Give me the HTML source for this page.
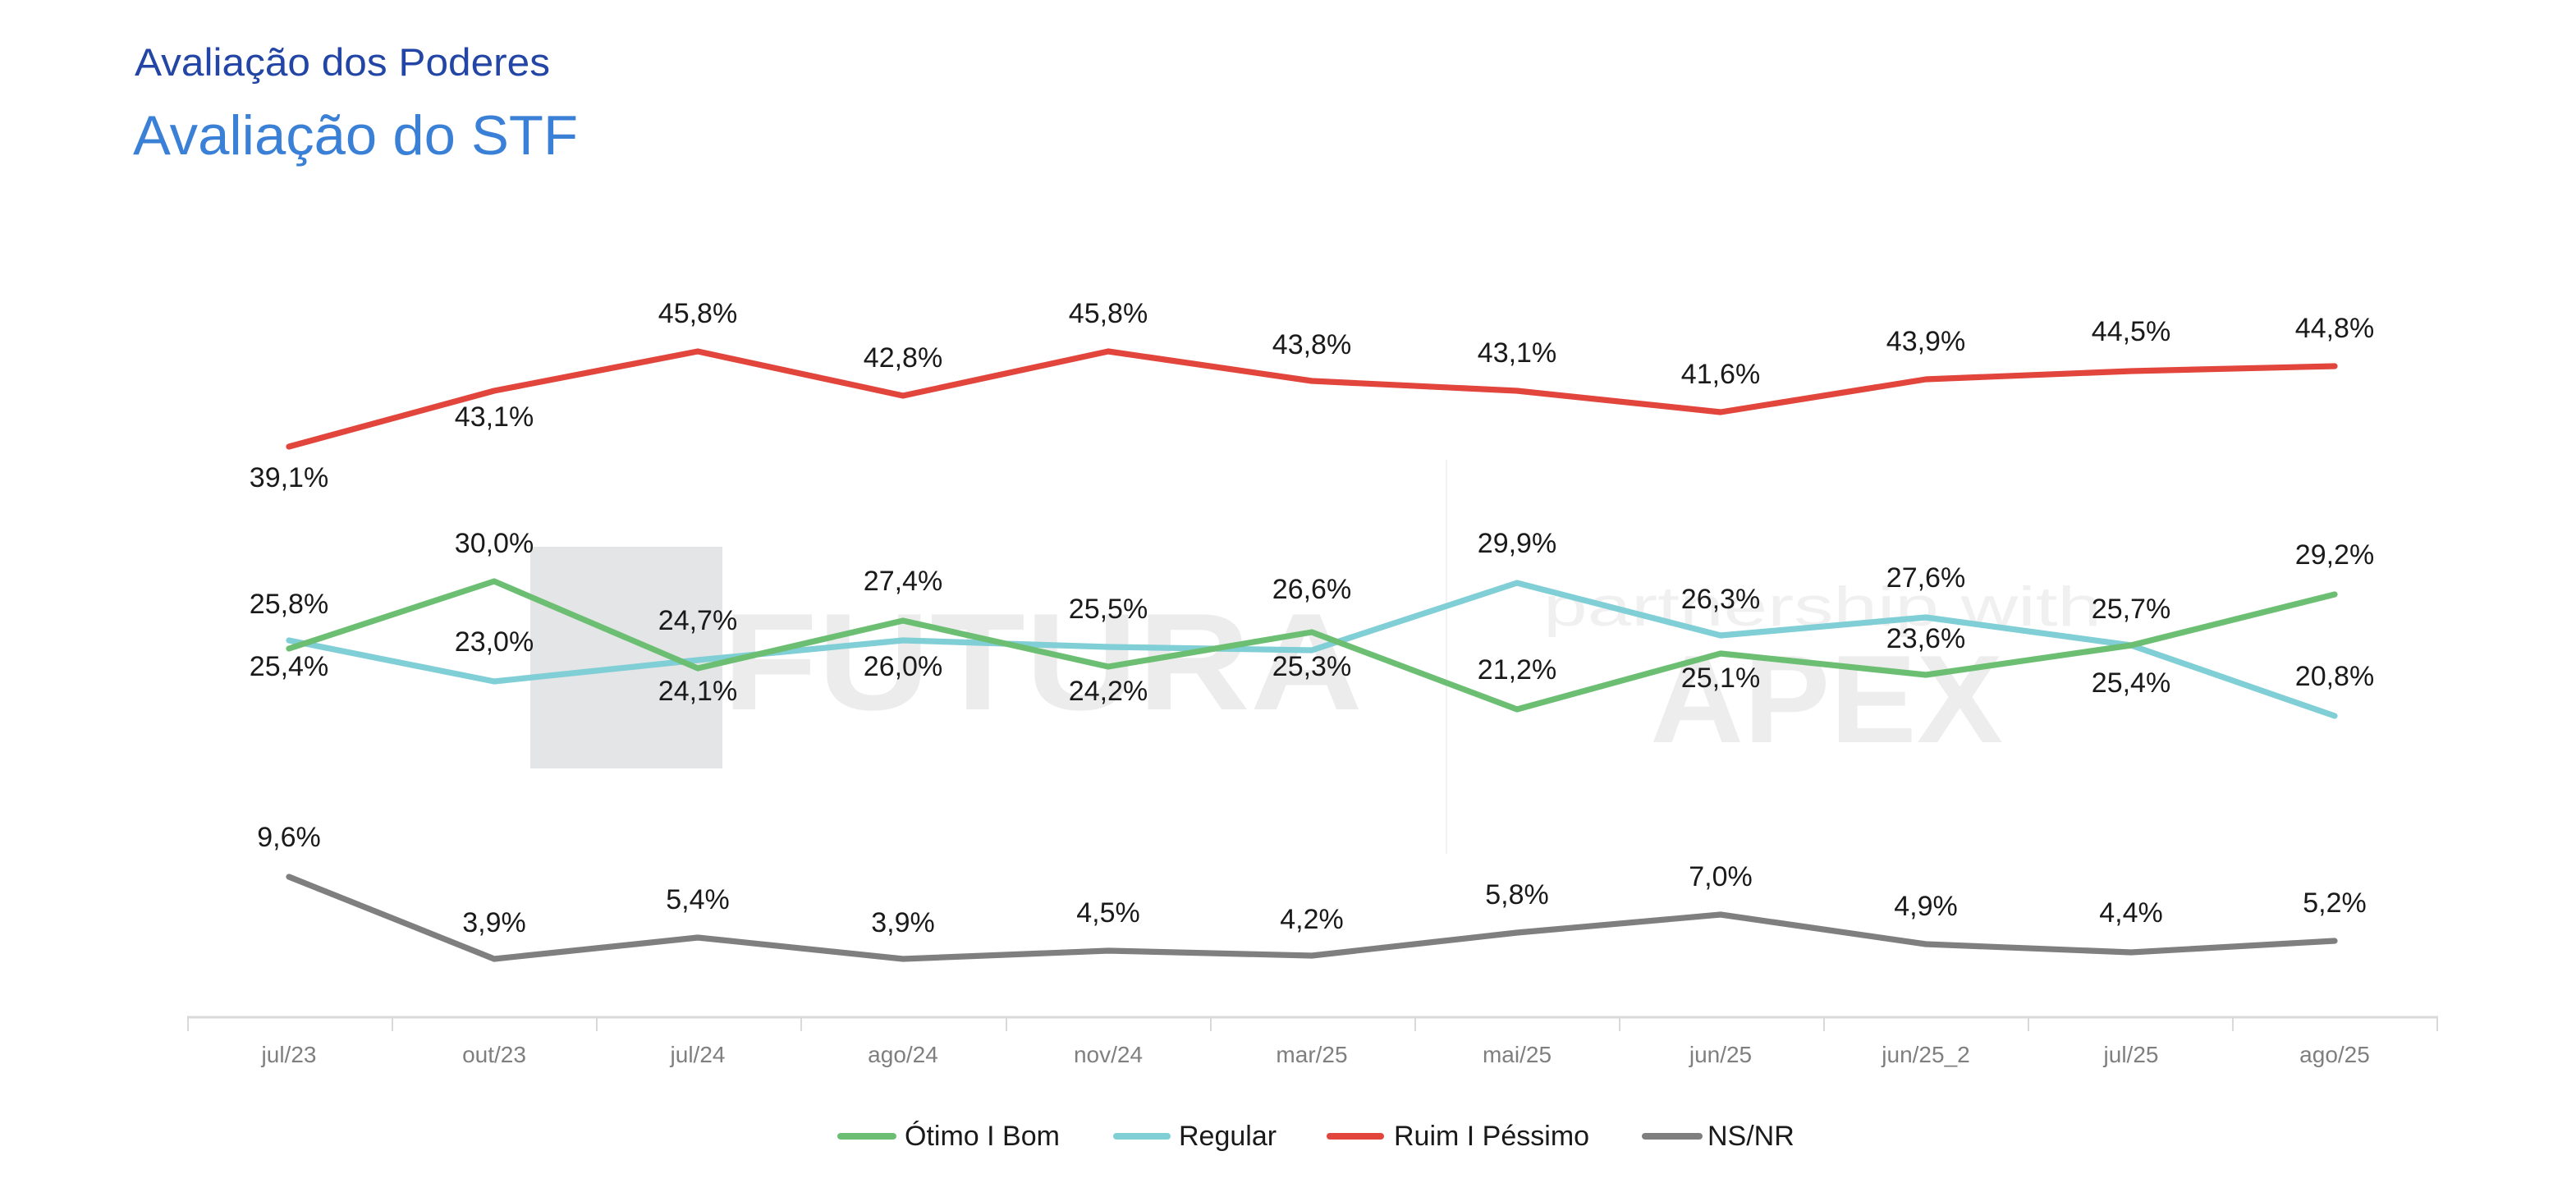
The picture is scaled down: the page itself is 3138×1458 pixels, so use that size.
<!DOCTYPE html>
<html><head><meta charset="utf-8"><style>
html,body{margin:0;padding:0;background:#fff;}
svg{display:block;}
text{font-family:"Liberation Sans",sans-serif;}
</style></head><body>
<svg width="3138" height="1458" viewBox="0 0 1569 729" xmlns="http://www.w3.org/2000/svg">
<rect width="1569" height="729" fill="#fff"/>
<text x="82" y="46" font-size="23.5" fill="#2346a6" textLength="253" lengthAdjust="spacingAndGlyphs">Avaliação dos Poderes</text>
<text x="81" y="94" font-size="34" fill="#3a80d6" textLength="271" lengthAdjust="spacingAndGlyphs">Avaliação do STF</text>

<!-- watermark -->
<rect x="323" y="333" width="117" height="135" fill="#e4e5e7"/>
<text x="440" y="432" font-size="84" font-weight="bold" fill="#ececec" textLength="390" lengthAdjust="spacingAndGlyphs">FUTURA</text>
<line x1="881" y1="280" x2="881" y2="520" stroke="#f2f2f2" stroke-width="1"/>
<text x="940" y="381" font-size="34" fill="#f0f0f0" textLength="340" lengthAdjust="spacingAndGlyphs">partnership with</text>
<text x="1005" y="452" font-size="76" font-weight="bold" fill="#ededed" textLength="215" lengthAdjust="spacingAndGlyphs">APEX</text>

<!-- axis -->
<line x1="114" y1="619.5" x2="1485" y2="619.5" stroke="#d9d9d9" stroke-width="1.5"/>
<g stroke="#d9d9d9" stroke-width="1">
<line x1="114.5" y1="619" x2="114.5" y2="628"/><line x1="239" y1="619" x2="239" y2="628"/><line x1="363.5" y1="619" x2="363.5" y2="628"/><line x1="488" y1="619" x2="488" y2="628"/><line x1="613" y1="619" x2="613" y2="628"/><line x1="737.5" y1="619" x2="737.5" y2="628"/><line x1="862" y1="619" x2="862" y2="628"/><line x1="986.5" y1="619" x2="986.5" y2="628"/><line x1="1111" y1="619" x2="1111" y2="628"/><line x1="1235.5" y1="619" x2="1235.5" y2="628"/><line x1="1360" y1="619" x2="1360" y2="628"/><line x1="1484.5" y1="619" x2="1484.5" y2="628"/>
</g>
<g font-size="14" fill="#7f7f7f" text-anchor="middle">
<text x="176" y="647">jul/23</text><text x="301" y="647">out/23</text><text x="425" y="647">jul/24</text><text x="550" y="647">ago/24</text><text x="675" y="647">nov/24</text><text x="799" y="647">mar/25</text><text x="924" y="647">mai/25</text><text x="1048" y="647">jun/25</text><text x="1173" y="647">jun/25_2</text><text x="1298" y="647">jul/25</text><text x="1422" y="647">ago/25</text>
</g>

<g fill="none" stroke-width="3.6" stroke-linejoin="round" stroke-linecap="round">
<polyline stroke="#e2453c" points="176,272 301,238 425,214 550,241 675,214 799,232 924,238 1048,251 1173,231 1298,226 1422,223"/>
<polyline stroke="#80ced6" points="176,390 301,415 425,402 550,390 675,394 799,396 924,355 1048,387 1173,376 1298,393 1422,436"/>
<polyline stroke="#6cbf72" points="176,395 301,354 425,407 550,378 675,406 799,385 924,432 1048,398 1173,411 1298,393 1422,362"/>
<polyline stroke="#7f7f7f" points="176,534 301,584 425,571 550,584 675,579 799,582 924,568 1048,557 1173,575 1298,580 1422,573"/>
</g>

<g font-size="17" fill="#1a1a1a" text-anchor="middle" dominant-baseline="central">
<text x="176" y="291">39,1%</text><text x="301" y="254">43,1%</text><text x="425" y="191">45,8%</text><text x="550" y="218">42,8%</text><text x="675" y="191">45,8%</text><text x="799" y="210">43,8%</text><text x="924" y="215">43,1%</text><text x="1048" y="228">41,6%</text><text x="1173" y="208">43,9%</text><text x="1298" y="202">44,5%</text><text x="1422" y="200">44,8%</text>

<text x="176" y="368">25,8%</text><text x="176" y="406">25,4%</text>
<text x="301" y="331">30,0%</text><text x="301" y="391">23,0%</text>
<text x="425" y="378">24,7%</text><text x="425" y="421">24,1%</text>
<text x="550" y="354">27,4%</text><text x="550" y="406">26,0%</text>
<text x="675" y="371">25,5%</text><text x="675" y="421">24,2%</text>
<text x="799" y="359">26,6%</text><text x="799" y="406">25,3%</text>
<text x="924" y="331">29,9%</text><text x="924" y="408">21,2%</text>
<text x="1048" y="365">26,3%</text><text x="1048" y="413">25,1%</text>
<text x="1173" y="352">27,6%</text><text x="1173" y="389">23,6%</text>
<text x="1298" y="371">25,7%</text><text x="1298" y="416">25,4%</text>
<text x="1422" y="338">29,2%</text><text x="1422" y="412">20,8%</text>

<text x="176" y="510">9,6%</text><text x="301" y="562">3,9%</text><text x="425" y="548">5,4%</text><text x="550" y="562">3,9%</text><text x="675" y="556">4,5%</text><text x="799" y="560">4,2%</text><text x="924" y="545">5,8%</text><text x="1048" y="534">7,0%</text><text x="1173" y="552">4,9%</text><text x="1298" y="556">4,4%</text><text x="1422" y="550">5,2%</text>
</g>

<!-- legend -->
<g stroke-width="4" stroke-linecap="round">
<line x1="512" y1="692" x2="544" y2="692" stroke="#6cbf72"/>
<line x1="680" y1="692" x2="711" y2="692" stroke="#80ced6"/>
<line x1="810" y1="692" x2="841" y2="692" stroke="#e2453c"/>
<line x1="1002" y1="692" x2="1035" y2="692" stroke="#7f7f7f"/>
</g>
<g font-size="17" fill="#1a1a1a" dominant-baseline="central">
<text x="551" y="692">Ótimo I Bom</text>
<text x="718" y="692">Regular</text>
<text x="849" y="692">Ruim I Péssimo</text>
<text x="1040" y="692">NS/NR</text>
</g>
</svg>
</body></html>
